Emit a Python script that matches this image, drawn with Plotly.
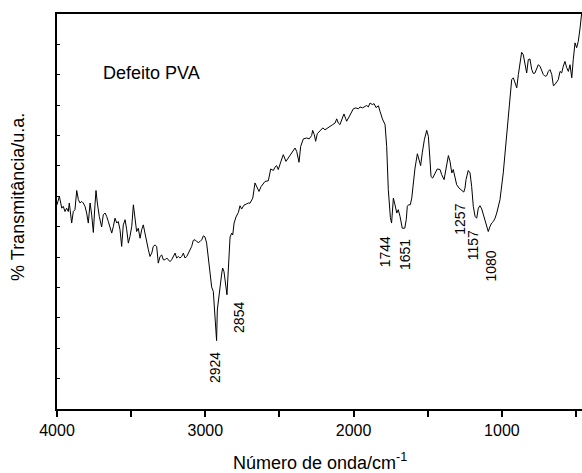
import plotly.graph_objects as go

# FTIR spectrum (wavenumber in cm-1, transmittance in arbitrary units)
wavenumber = [4000, 3984, 3968, 3958, 3946, 3935, 3924, 3917, 3901, 3890, 3879, 3867, 3856, 3845, 3833,
              3823, 3811, 3800, 3789, 3777, 3766, 3755, 3744, 3737, 3728, 3715, 3699, 3688, 3676, 3665,
              3654, 3643, 3631, 3620, 3609, 3597, 3587, 3575, 3564, 3553, 3541, 3530, 3519, 3508, 3496,
              3485, 3474, 3463, 3452, 3440, 3429, 3418, 3407, 3395, 3384, 3373, 3361, 3351, 3339, 3328,
              3317, 3305, 3294, 3283, 3272, 3260, 3249, 3238, 3227, 3216, 3204, 3193, 3182, 3171, 3159,
              3148, 3137, 3125, 3115, 3103, 3092, 3081, 3069, 3058, 3047, 3036, 3024, 3013, 3002, 2991,
              2980, 2968, 2957, 2946, 2924, 2919, 2906, 2889, 2883, 2874, 2854, 2845, 2833, 2822, 2815,
              2806, 2793, 2777, 2766, 2755, 2739, 2721, 2710, 2699, 2680, 2665, 2653, 2638, 2624, 2597,
              2575, 2559, 2541, 2530, 2519, 2508, 2490, 2474, 2456, 2440, 2417, 2395, 2384, 2368, 2357,
              2339, 2316, 2299, 2283, 2276, 2265, 2256, 2245, 2227, 2208, 2193, 2177, 2159, 2141, 2125,
              2114, 2103, 2092, 2073, 2065, 2053, 2047, 2031, 2013, 2002, 1984, 1968, 1957, 1939, 1923,
              1912, 1901, 1889, 1874, 1862, 1849, 1833, 1822, 1806, 1788, 1777, 1766, 1752, 1744, 1732,
              1721, 1709, 1699, 1687, 1672, 1655, 1645, 1638, 1630, 1618, 1608, 1597, 1586, 1570, 1557,
              1548, 1537, 1523, 1507, 1496, 1485, 1478, 1467, 1451, 1436, 1417, 1406, 1390, 1377, 1361,
              1350, 1338, 1328, 1316, 1305, 1289, 1271, 1257, 1249, 1242, 1227, 1215, 1204, 1193, 1181,
              1170, 1159, 1148, 1136, 1116, 1102, 1092, 1080, 1069, 1058, 1046, 1035, 1013, 991, 968,
              945, 934, 923, 912, 900, 889, 878, 867, 856, 844, 833, 822, 811, 799, 788,
              777, 765, 755, 743, 732, 721, 709, 698, 687, 676, 664, 653, 642, 630, 620,
              608, 597, 586, 575, 563, 552, 541, 529, 519, 507, 496, 485, 473, 462]

transmittance = [67.2, 70.0, 66.1, 66.7, 65.0, 66.1, 65.0, 67.8, 61.2, 65.0, 65.6, 71.9, 68.9, 67.8, 68.3,
                 67.8, 66.7, 64.5, 61.2, 67.8, 63.9, 58.1, 67.2, 71.9, 67.8, 63.4, 59.9, 63.9, 64.5, 63.4,
                 61.7, 60.1, 57.9, 60.1, 62.8, 61.2, 61.7, 59.0, 53.5, 60.6, 62.3, 59.0, 54.6, 56.8, 60.1,
                 67.2, 62.3, 58.4, 59.5, 56.2, 59.0, 60.6, 57.9, 54.6, 52.4, 50.2, 51.3, 53.5, 54.0, 53.5,
                 48.0, 50.2, 50.7, 49.1, 49.1, 49.7, 49.1, 48.5, 49.1, 50.2, 51.3, 49.7, 50.2, 49.7, 50.2,
                 51.3, 49.7, 50.2, 51.3, 52.4, 53.5, 55.5, 55.7, 55.1, 54.8, 55.1, 55.7, 57.0, 56.6, 54.6,
                 50.2, 44.7, 40.1, 38.7, 22.5, 32.6, 38.7, 44.7, 46.4, 45.2, 37.6, 48.0, 56.6, 57.9, 57.3,
                 61.2, 63.2, 64.7, 66.9, 65.8, 67.1, 67.5, 67.8, 67.7, 69.4, 74.4, 73.0, 71.6, 73.2, 74.9,
                 75.1, 79.0, 78.5, 79.6, 80.1, 78.8, 81.5, 83.7, 81.5, 82.6, 84.3, 85.9, 84.8, 81.2, 86.4,
                 88.9, 89.2, 88.9, 90.0, 91.7, 90.3, 88.1, 90.6, 91.4, 92.5, 91.9, 92.5, 93.0, 93.6, 94.1,
                 95.5, 94.1, 93.6, 96.1, 97.1, 95.5, 94.7, 96.1, 98.0, 98.8, 99.1, 98.8, 99.4, 99.1, 99.6,
                 99.9, 99.4, 100.7, 100.2, 100.5, 99.2, 99.8, 98.0, 95.5, 93.6, 86.4, 72.2, 63.0, 61.2, 69.4,
                 67.2, 64.5, 65.6, 63.4, 59.5, 59.5, 62.3, 66.7, 67.2, 67.2, 69.4, 74.4, 79.3, 84.0, 81.5,
                 80.1, 84.3, 88.6, 91.7, 89.7, 82.0, 76.5, 76.0, 77.7, 79.0, 78.8, 77.1, 75.5, 78.8, 83.4,
                 81.5, 77.7, 78.8, 76.5, 73.8, 72.7, 72.0, 71.4, 72.7, 75.5, 78.5, 77.7, 73.2, 66.7, 63.4,
                 62.8, 66.1, 66.9, 65.8, 62.3, 59.5, 58.4, 60.1, 61.2, 61.7, 62.8, 64.5, 68.9, 77.7, 89.7,
                 102.5, 108.4, 109.0, 107.3, 105.7, 110.1, 114.4, 117.4, 116.6, 112.8, 110.6, 115.0, 115.2, 111.7, 110.4,
                 110.6, 112.3, 113.3, 112.8, 111.1, 110.1, 109.5, 109.7, 111.1, 111.7, 110.1, 106.4, 106.8, 107.5, 108.4,
                 111.1, 110.6, 112.8, 114.4, 112.3, 111.1, 113.3, 109.0, 115.0, 120.5, 118.9, 121.0, 125.4, 130.4]

# Peak labels
peak_labels = ["2924", "2854", "1744", "1651", "1257", "1157", "1080"]
peak_label_x = [2935, 2777, 1788, 1653, 1283, 1193, 1076]
peak_label_y = [13.8, 30.1, 51.6, 50.7, 62.6, 54.0, 47.1]

x_tickvals = [4000, 3000, 2000, 1000]
x_ticktext = ["4000", "3000", "2000", "1000"]

FONT = "Arial, Liberation Sans, sans-serif"

fig = go.Figure()
fig.add_trace(go.Scatter(x=wavenumber, y=transmittance, mode="lines",
                         line=dict(color="black", width=1), showlegend=False,
                         hoverinfo="skip"))

annotations = []
for lbl, lx, ly in zip(peak_labels, peak_label_x, peak_label_y):
    annotations.append(dict(x=lx, y=ly, xref="x", yref="y", text=lbl, showarrow=False,
                            textangle=-90, font=dict(family=FONT, size=14, color="black"),
                            xanchor="center", yanchor="middle"))

annotations.append(dict(x=3703, y=110.7, xref="x", yref="y", text="Defeito PVA", showarrow=False,
                        font=dict(family=FONT, size=18, color="black"),
                        xanchor="left", yanchor="middle"))
annotations.append(dict(x=0.5, y=-0.134, xref="paper", yref="paper",
                        text="Número de onda/cm<sup>-1</sup>", showarrow=False,
                        font=dict(family=FONT, size=18, color="black"),
                        xanchor="center", yanchor="middle"))
annotations.append(dict(x=-0.0743, y=0.537, xref="paper", yref="paper",
                        text="% Transmitância/u.a.", showarrow=False, textangle=-90,
                        font=dict(family=FONT, size=18, color="black"),
                        xanchor="center", yanchor="middle"))

fig.update_layout(
    width=582, height=473,
    margin=dict(l=57, r=0, t=14, b=64),
    paper_bgcolor="white", plot_bgcolor="white",
    font=dict(family=FONT, color="black"),
    annotations=annotations,
    xaxis=dict(range=[4000, 460], tickvals=x_tickvals, ticktext=x_ticktext,
               ticks="outside", ticklen=6, tickwidth=1.5, tickcolor="black",
               minor=dict(tickvals=[3500, 2500, 1500, 500], ticks="outside", ticklen=6,
                          tickwidth=1.5, tickcolor="black", showgrid=False),
               showline=True, linecolor="black", linewidth=2, mirror=True,
               showgrid=False, zeroline=False,
               tickfont=dict(family=FONT, size=16, color="black")),
    yaxis=dict(range=[0, 130], dtick=10, tick0=0, ticks="inside", ticklen=3,
               tickwidth=1.2, tickcolor="black", showticklabels=False,
               showline=True, linecolor="black", linewidth=2, mirror=False,
               showgrid=False, zeroline=False),
)

fig.write_html("out.html")
